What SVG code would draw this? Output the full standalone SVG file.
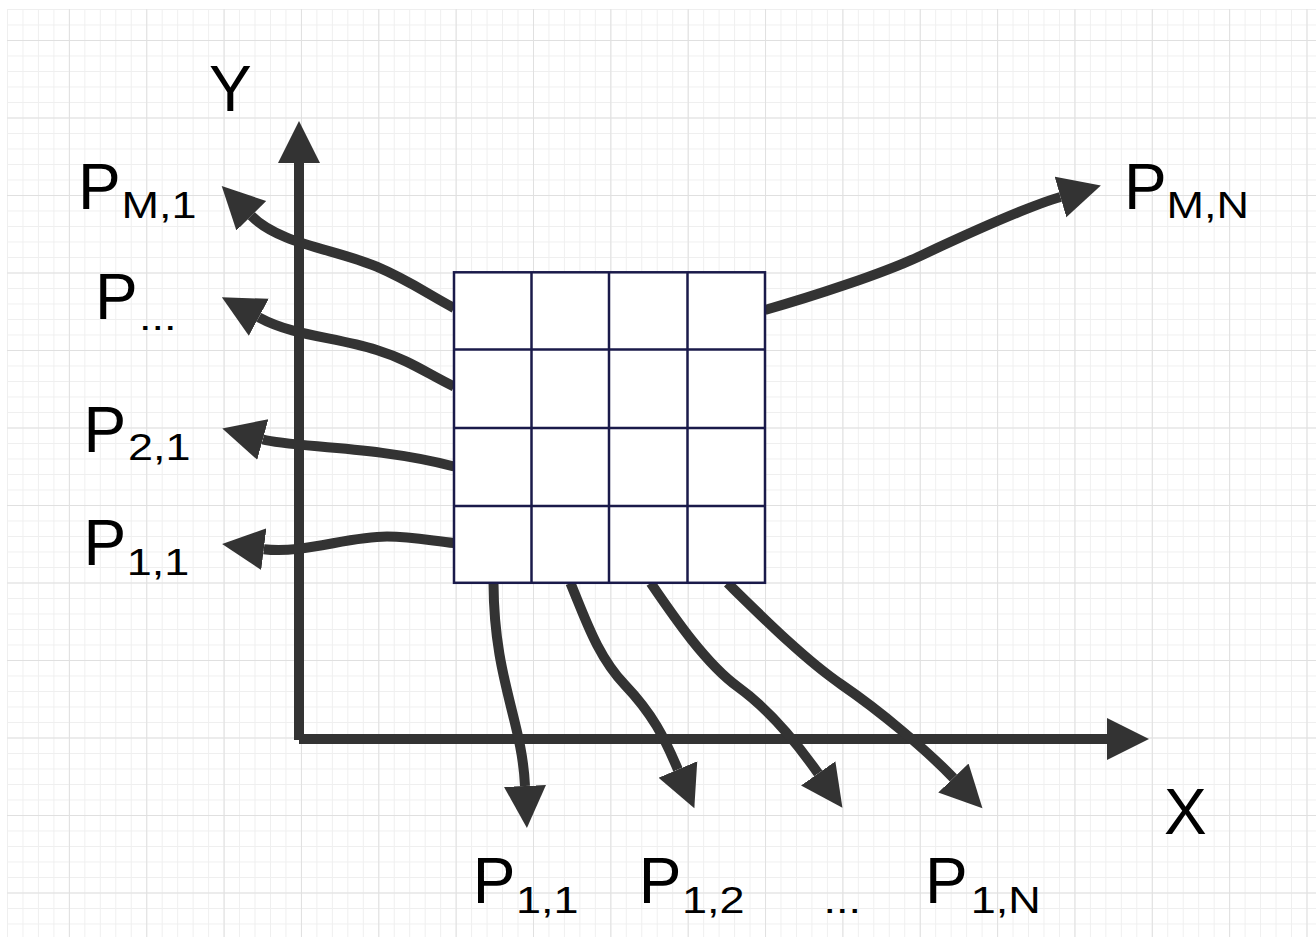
<svg xmlns="http://www.w3.org/2000/svg" width="1316" height="937" viewBox="0 0 1316 937">
  <style>
    .main { font-family: "Liberation Sans", Arial, sans-serif; font-size: 64px; fill: #000; }
    .sub { font-family: "Liberation Sans", Arial, sans-serif; font-size: 36px; fill: #000; }
    .conn { fill: none; stroke: #333333; stroke-width: 10; marker-end: url(#head); }
    .cell { fill: #ffffff; stroke: #1a1a4a; stroke-width: 2.5; }
    .cellline { stroke: #1a1a4a; stroke-width: 2.5; }
  </style>
  <defs>
    <pattern id="minor" patternUnits="userSpaceOnUse" x="7" y="9" width="15.47" height="15.5">
      <rect x="0" y="0" width="1" height="15.5" fill="#efefef"/>
      <rect x="0" y="0" width="15.47" height="1" fill="#efefef"/>
    </pattern>
    <pattern id="major" patternUnits="userSpaceOnUse" x="68.9" y="40" width="77.35" height="77.5">
      <rect x="0" y="0" width="1" height="77.5" fill="#e0e0e0"/>
      <rect x="0" y="0" width="77.35" height="1" fill="#e0e0e0"/>
    </pattern>
    <marker id="head" markerUnits="userSpaceOnUse" viewBox="0 -22 44 44" markerWidth="44" markerHeight="44" refX="0" refY="0" orient="auto">
      <path d="M0,-21 L42,0 L0,21 Z" fill="#333333"/>
    </marker>
  </defs>

  <rect x="0" y="0" width="1316" height="937" fill="#ffffff"/>
  <g id="grid-background">
    <rect x="7" y="9" width="1309" height="928" fill="url(#minor)"/>
    <rect x="7" y="9" width="1309" height="928" fill="url(#major)"/>
  </g>

  <g id="connectors">
    <path id="axis-y" class="conn" d="M299,740 L299,163"/>
    <path id="axis-x" class="conn" d="M299,739 L1107,739"/>
    <path id="to-PM1" class="conn" d="M454,308 C427.5,293.9 408.9,280.4 376.7,266.7 C335.3,249.1 279.5,244.2 251.3,215.8"/>
    <path id="to-Pdots" class="conn" d="M454,386.5 C427,373.5 410.1,360.4 376.7,350 C333.8,336.6 294,336.3 258.8,317.3"/>
    <path id="to-P21" class="conn" d="M454,466.5 C376.6,446 291.7,447.4 262.8,439.5"/>
    <path id="to-P11-left" class="conn" d="M454,543 C432.1,540.8 412,536.5 387,536.5 C347,536.5 303.5,554.1 263.8,549.2"/>
    <path id="to-PMN" class="conn" d="M765,310 C813.1,296.4 882.4,273.6 918.6,256.7 C954.8,239.8 1022.1,208 1060.5,197"/>
    <path id="to-P11-bottom" class="conn" d="M493.5,583 C494,680 522,720 525,786"/>
    <path id="to-P12" class="conn" d="M570.4,583 C585.8,619.9 597.4,656 625,685 C652.6,714 664.2,737.3 677.9,769.5"/>
    <path id="to-Pdots-bottom" class="conn" d="M650.7,583 C673.3,616 705.5,663.6 738,687 C770.5,710.4 798,744.8 818.2,773.4"/>
    <path id="to-P1N" class="conn" d="M727.5,583 C763.2,618 804.9,659.6 842,685 C879.1,710.4 925.8,749.2 953.4,778"/>
  </g>

  <g id="matrix">
    <rect class="cell" x="454" y="272.3" width="311" height="310.5"/>
    <line class="cellline" x1="531.5" y1="272.3" x2="531.5" y2="582.8"/>
    <line class="cellline" x1="609" y1="272.3" x2="609" y2="582.8"/>
    <line class="cellline" x1="687.5" y1="272.3" x2="687.5" y2="582.8"/>
    <line class="cellline" x1="454" y1="349.5" x2="765" y2="349.5"/>
    <line class="cellline" x1="454" y1="428" x2="765" y2="428"/>
    <line class="cellline" x1="454" y1="506" x2="765" y2="506"/>
  </g>

  <g id="label-Y"><text class="main" x="209" y="111">Y</text></g>
  <g id="label-X"><text class="main" x="1164" y="834">X</text></g>

  <g id="label-PM1">
    <text class="main" x="78" y="209">P</text>
    <text class="sub" transform="translate(121.6,218) scale(1.25,1)">M,1</text>
  </g>
  <g id="label-Pdots">
    <text class="main" x="95" y="319">P</text>
    <text class="sub" transform="translate(139,330) scale(1.25,1)">...</text>
  </g>
  <g id="label-P21">
    <text class="main" x="83.4" y="452">P</text>
    <text class="sub" transform="translate(128,460) scale(1.25,1)">2,1</text>
  </g>
  <g id="label-P11-left">
    <text class="main" x="83.4" y="565">P</text>
    <text class="sub" transform="translate(126.8,575) scale(1.25,1)">1,1</text>
  </g>
  <g id="label-PMN">
    <text class="main" x="1124" y="209">P</text>
    <text class="sub" transform="translate(1166.6,218) scale(1.25,1)">M,N</text>
  </g>
  <g id="label-P11-bottom">
    <text class="main" x="472.8" y="903">P</text>
    <text class="sub" transform="translate(516,912.5) scale(1.25,1)">1,1</text>
  </g>
  <g id="label-P12">
    <text class="main" x="638.8" y="903">P</text>
    <text class="sub" transform="translate(682,912.5) scale(1.25,1)">1,2</text>
  </g>
  <g id="label-dots-bottom">
    <text class="sub" transform="translate(823.4,912.5) scale(1.25,1)">...</text>
  </g>
  <g id="label-P1N">
    <text class="main" x="925" y="903">P</text>
    <text class="sub" transform="translate(970.8,912.5) scale(1.25,1)">1,N</text>
  </g>
</svg>
